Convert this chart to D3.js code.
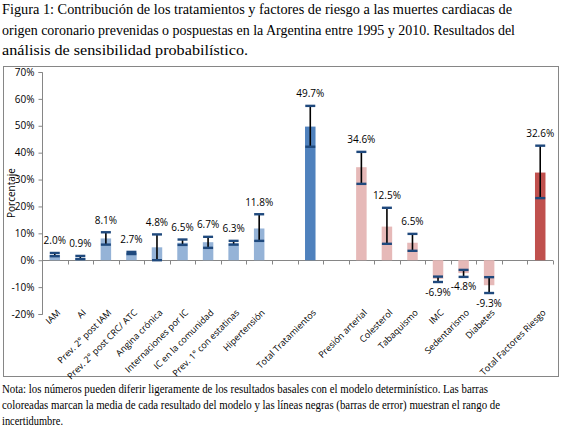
<!DOCTYPE html>
<html><head><meta charset="utf-8">
<script src="https://cdn.jsdelivr.net/npm/d3@7"></script>
<style>
body{margin:0;background:#fff;}
svg{display:block;}
</style></head>
<body>
<svg id="c" width="566" height="443"></svg>
<script>
// ---- data ----
const categories = ["IAM","AI","Prev. 2° post IAM","Prev. 2° post CRC/ ATC","Angina crónica","Internaciones por IC","IC en la comunidad","Prev. 1° con estatinas","Hipertensión","","Total Tratamientos","","Presión arterial","Colesterol","Tabaquismo","IMC","Sedentarismo","Diabetes","","Total Factores Riesgo"];
const groups = ["tx","tx","tx","tx","tx","tx","tx","tx","tx",null,"txTotal",null,"rf","rf","rf","rf","rf","rf",null,"rfTotal"];
const values = [2.0,0.9,8.1,2.7,4.8,6.5,6.7,6.3,11.8,null,49.7,null,34.6,12.5,6.5,-6.9,-4.8,-9.3,null,32.6];
const errLow  = [1.5,0.4,5.8,2.3,0.0,5.7,4.6,5.8,7.2,null,42.2,null,28.4,6.1,3.5,-8.1,-6.2,-12.2,null,23.1];
const errHigh = [2.7,1.6,10.4,3.1,9.6,7.7,8.7,7.2,17.1,null,57.4,null,40.3,19.5,9.8,-6.1,-3.6,-6.3,null,42.6];
const yTicks = [70,60,50,40,30,20,10,0,-10,-20];
const titleLines = ["Figura 1: Contribución de los tratamientos y factores de riesgo a las muertes cardiacas de",
  "origen coronario prevenidas o pospuestas en la Argentina entre 1995 y 2010. Resultados del",
  "análisis de sensibilidad probabilístico."];
const noteLines = ["Nota: los números pueden diferir ligeramente de los resultados basales con el modelo determinístico. Las barras",
  "coloreadas marcan la media de cada resultado del modelo y las líneas negras (barras de error) muestran el rango de",
  "incertidumbre."];
const colors = {tx:"#95B3D7", txTotal:"#4F81BD", rf:"#E6B9B8", rfTotal:"#C0504D"};

// layout (text line widths in px, as in the reference)
const titleWidths = [510, 513, 246];
const noteWidths = [486, 498, 61];

const svg = d3.select("#c");
const font = "'Open Sans', sans-serif";
const serif = "'Liberation Serif', 'Times New Roman', serif";

// title
svg.append("g").selectAll("text").data(titleLines).join("text")
  .attr("x",2).attr("y",(d,i)=>14+i*20.5)
  .attr("font-family",serif).attr("font-size",15)
  .attr("textLength",(d,i)=>titleWidths[i]).attr("lengthAdjust","spacingAndGlyphs")
  .attr("fill","#000").text(d=>d);

// frame
svg.append("rect").attr("x",3.5).attr("y",66.5).attr("width",555).attr("height",310)
  .attr("fill","#fff").attr("stroke","#868686").attr("stroke-width",1);

const pL=42, pR=553, pT=72, pB=314;
const x = d3.scaleBand().domain(d3.range(categories.length)).range([pL,pR]).padding(0);
const y = d3.scaleLinear().domain([-20,70]).range([pB,pT]);

// y axis
const ya = svg.append("g").attr("transform",`translate(${pL+0.5},0)`)
  .call(d3.axisLeft(y).tickValues(yTicks).tickSize(4).tickPadding(4).tickFormat(d=>d+"%"));
ya.selectAll("path,line").attr("stroke","#868686");
ya.select(".domain").attr("d",`M-4,${y(70)+0.5}H0V${y(-20)+0.5}H-4`);
ya.selectAll("text").attr("font-family",font).attr("font-size",10).attr("fill","#000");

// x axis line at zero with ticks on boundaries
const xa = svg.append("g");
xa.append("line").attr("x1",pL).attr("x2",pR).attr("y1",Math.round(y(0))+0.5).attr("y2",Math.round(y(0))+0.5)
  .attr("stroke","#868686");
xa.selectAll("line.t").data(d3.range(categories.length+1)).join("line").attr("class","t")
  .attr("x1",i=>Math.round(pL+i*x.step())+0.5).attr("x2",i=>Math.round(pL+i*x.step())+0.5)
  .attr("y1",Math.round(y(0))+0.5).attr("y2",Math.round(y(0))+4.5).attr("stroke","#868686");

// bars
const bw = 10.5;
const idx = d3.range(categories.length).filter(i=>values[i]!==null);
svg.append("g").selectAll("rect").data(idx).join("rect")
  .attr("x",i=>x(i)+x.bandwidth()/2-bw/2)
  .attr("width",bw)
  .attr("y",i=>y(Math.max(0,values[i])))
  .attr("height",i=>Math.abs(y(values[i])-y(0)))
  .attr("fill",i=>colors[groups[i]]);

// error bars
const eg = svg.append("g");
eg.selectAll("line.v").data(idx).join("line").attr("class","v")
  .attr("x1",i=>x(i)+x.bandwidth()/2).attr("x2",i=>x(i)+x.bandwidth()/2)
  .attr("y1",i=>y(errLow[i])).attr("y2",i=>y(errHigh[i]))
  .attr("stroke","#000").attr("stroke-width",1.6);
["lo","hi"].forEach(k=>{
  eg.selectAll("line."+k).data(idx).join("line").attr("class",k)
    .attr("x1",i=>x(i)+x.bandwidth()/2-5).attr("x2",i=>x(i)+x.bandwidth()/2+5)
    .attr("y1",i=>y(k==="lo"?errLow[i]:errHigh[i])).attr("y2",i=>y(k==="lo"?errLow[i]:errHigh[i]))
    .attr("stroke","#1F497D").attr("stroke-width",2.4);
});

// value labels
svg.append("g").selectAll("text").data(idx).join("text")
  .attr("x",i=>x(i)+x.bandwidth()/2)
  .attr("y",i=>values[i]>=0 ? y(errHigh[i])-12 : y(errLow[i])+10)
  .attr("dy","0.35em").attr("text-anchor","middle")
  .attr("font-family",font).attr("font-size",10).attr("fill","#000")
  .text(i=>values[i].toFixed(1)+"%");

// category labels
svg.append("g").selectAll("text").data(idx).join("text")
  .attr("transform",i=>`translate(${x(i)+x.bandwidth()/2+4},${311}) rotate(-45)`)
  .attr("text-anchor","end").attr("dy","0.35em")
  .attr("font-family",font).attr("font-size",9).attr("fill","#000")
  .text(i=>categories[i]);

// y title
svg.append("text").attr("transform",`translate(11,${(pT+pB)/2}) rotate(-90)`)
  .attr("text-anchor","middle").attr("dy","0.35em")
  .attr("font-family",font).attr("font-size",10).attr("fill","#000").text("Porcentaje");

// note
svg.append("g").selectAll("text").data(noteLines).join("text")
  .attr("x",2).attr("y",(d,i)=>393+i*16)
  .attr("font-family",serif).attr("font-size",12.5)
  .attr("textLength",(d,i)=>noteWidths[i]).attr("lengthAdjust","spacingAndGlyphs")
  .attr("fill","#000").text(d=>d);
</script>
</body></html>
